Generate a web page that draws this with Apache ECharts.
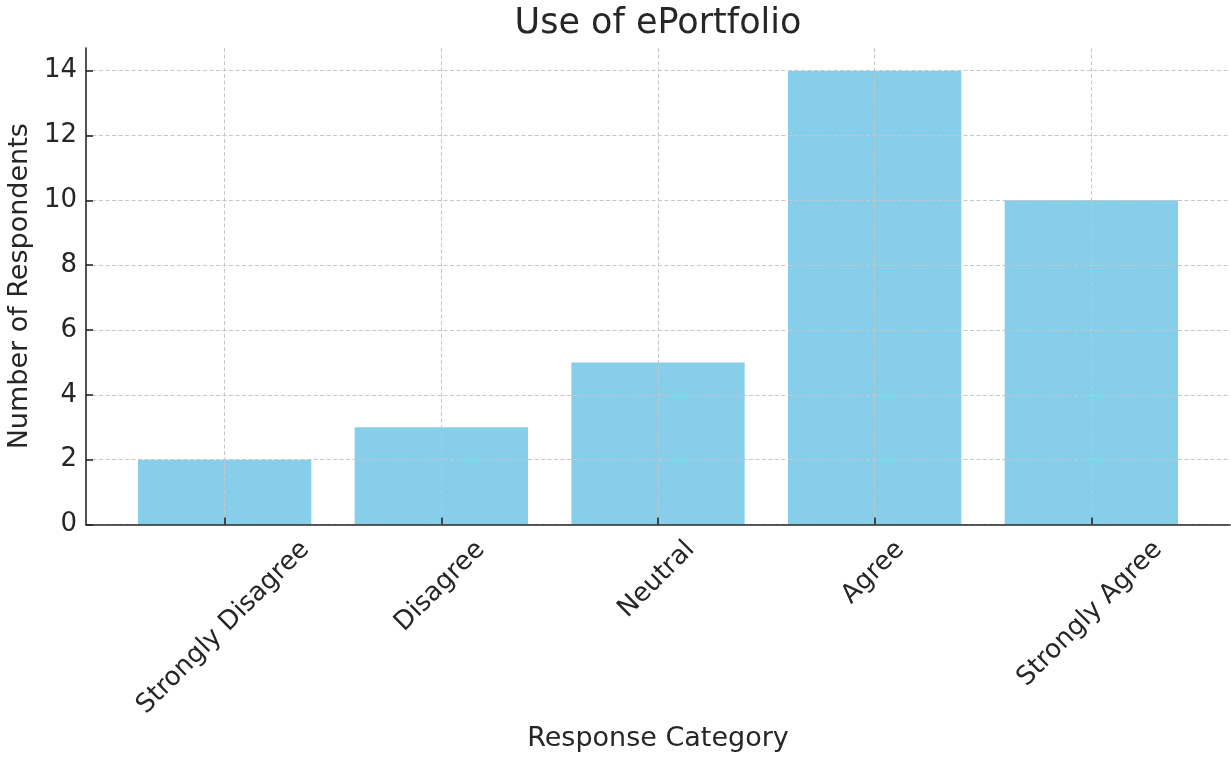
<!DOCTYPE html>
<html>
<head>
<meta charset="utf-8">
<script src="https://cdn.jsdelivr.net/npm/echarts@6/dist/echarts.min.js"></script>
<style>
  html, body { margin: 0; padding: 0; background: #fff; }
  #chart { width: 1231px; height: 760px; }
</style>
</head>
<body>
<div id="chart"></div>
<script>
const titleText = 'Use of ePortfolio';
const xAxisTitle = 'Response Category';
const yAxisTitle = 'Number of Respondents';
const categories = ['Strongly Disagree', 'Disagree', 'Neutral', 'Agree', 'Strongly Agree'];
const counts = [2, 3, 5, 14, 10];
const yTickValues = [0, 2, 4, 6, 8, 10, 12, 14];

const FONT = '"DejaVu Sans", sans-serif';
const textColor = '#262626';
const gridL = 86, gridR = 1, gridT = 48, gridB = 235.5;
const chartW = 1231;
const plotW = chartW - gridL - gridR;
const plotCenter = gridL + plotW / 2;

// matplotlib-like extents: bars of width 0.8, 5% margins
const barFrac = 0.8;
const xMin = -barFrac / 2 - 0.05 * (categories.length - 1 + barFrac);
const xMax = categories.length - 1 + barFrac / 2 + 0.05 * (categories.length - 1 + barFrac);
const yMax = Math.max(...counts) * 1.05;
const pxPerUnit = plotW / (xMax - xMin);

const canvas = document.createElement('canvas');
const ctx = canvas.getContext('2d');
function measure(text, size) {
  ctx.font = size + 'px ' + FONT;
  return ctx.measureText(text).width;
}
const labelFont = 26;
const labelBoxH = 30;
// place each rotated label so its bounding box is centred on the tick (matplotlib style)
const labelValues = categories.map((c, i) => i + 0.3536 * (measure(c, labelFont) - labelBoxH) / pxPerUnit);

const titleSize = 35;
const titleLeft = plotCenter - measure(titleText, titleSize) / 2;

const chart = echarts.init(document.getElementById('chart'), null, { renderer: 'canvas' });
chart.setOption({
  animation: false,
  backgroundColor: '#ffffff',
  textStyle: { fontFamily: FONT },
  title: {
    text: titleText,
    left: titleLeft,
    top: 6,
    padding: 0,
    textStyle: { fontFamily: FONT, fontSize: titleSize, fontWeight: 'normal', color: textColor }
  },
  grid: { left: gridL, right: gridR, top: gridT, bottom: gridB, containLabel: false, outerBoundsMode: 'none' },
  xAxis: {
    type: 'value',
    min: xMin,
    max: xMax,
    z: 10,
    name: xAxisTitle,
    nameLocation: 'middle',
    nameGap: 199,
    nameTextStyle: { fontFamily: FONT, fontSize: 27, color: textColor, verticalAlign: 'top' },
    axisLine: { show: true, onZero: false, lineStyle: { color: textColor, width: 1.6 } },
    axisTick: { show: true, inside: true, length: 7, customValues: categories.map((c, i) => i), lineStyle: { color: textColor, width: 1.6 } },
    axisLabel: {
      customValues: labelValues,
      rotate: 45,
      align: 'right',
      verticalAlign: 'top',
      margin: 12,
      fontFamily: FONT,
      fontSize: labelFont,
      color: textColor,
      formatter: v => categories[Math.round(v)]
    },
    splitLine: { show: true, lineStyle: { color: '#c6c6c6', width: 1, type: [4, 2.5] } }
  },
  yAxis: {
    type: 'value',
    min: 0,
    max: yMax,
    z: 10,
    name: yAxisTitle,
    nameLocation: 'middle',
    nameGap: 52,
    nameTextStyle: { fontFamily: FONT, fontSize: 27, color: textColor },
    axisLine: { show: true, onZero: false, lineStyle: { color: textColor, width: 1.6 } },
    axisTick: { show: true, inside: true, length: 7, customValues: yTickValues, lineStyle: { color: textColor, width: 1.6 } },
    axisLabel: { customValues: yTickValues, margin: 9, fontFamily: FONT, fontSize: 26, color: textColor },
    splitLine: { show: true, lineStyle: { color: '#c6c6c6', width: 1, type: [4, 2.5] } }
  },
  series: [{
    type: 'bar',
    data: categories.map((c, i) => [i, counts[i]]),
    barWidth: barFrac * pxPerUnit,
    itemStyle: { color: '#87CEEB' },
    z: 2
  }]
});
</script>
</body>
</html>
